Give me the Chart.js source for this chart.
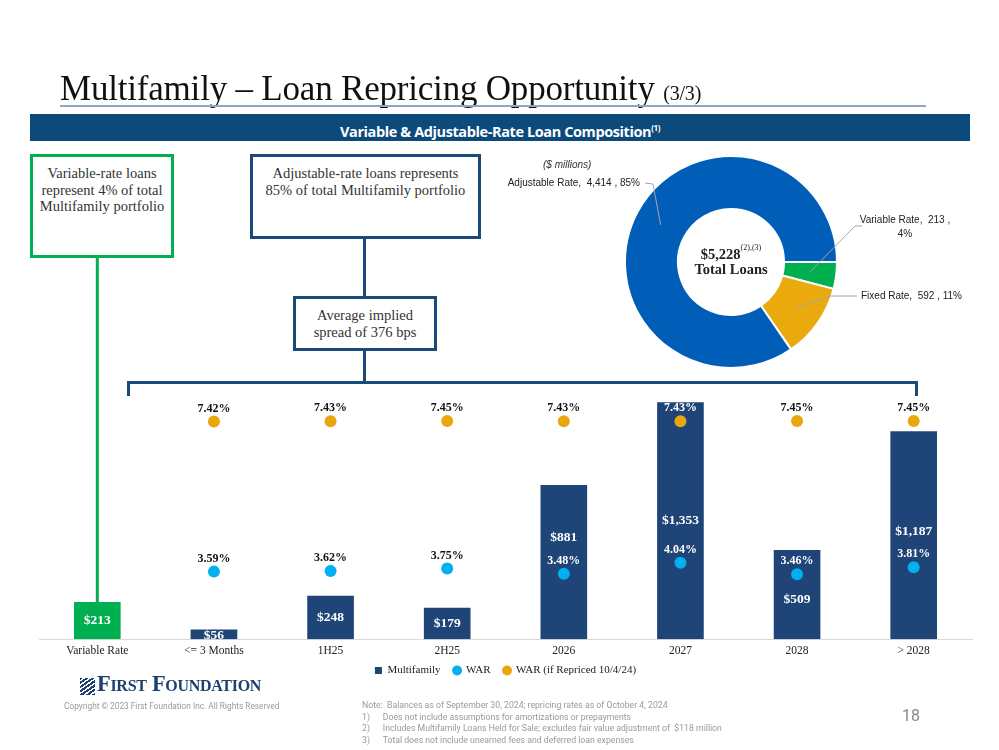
<!DOCTYPE html>
<html>
<head>
<meta charset="utf-8">
<script src="https://cdn.jsdelivr.net/npm/chart.js@4.4.1/dist/chart.umd.min.js"></script>
<style>
  body { margin: 0; background: #fff; }
  #page { position: relative; width: 999px; height: 750px; overflow: hidden; font-family: "Liberation Serif", serif; }
  #page > * { position: absolute; }
  .box { box-sizing: border-box; background: #fff; text-align: center; color: #333; font-size: 14.5px; line-height: 16.5px; }
  .navy { background: #1b4a7a; }
  .note { font-family: "Liberation Sans Narrow", "Roboto", sans-serif; color: #9a9a9a; font-size: 8.7px; }
</style>
</head>
<body>
<div id="page">
  <canvas id="bars" width="999" height="750" style="left:0;top:0"></canvas>

  <div style="left:60px;top:69px;font-size:35px;color:#111;white-space:nowrap;letter-spacing:-0.2px">Multifamily – Loan Repricing Opportunity <span style="font-size:20px">(3/3)</span></div>
  <div style="left:60px;top:105px;width:866px;height:2px;background:#8ea6c1"></div>
  <div style="left:30px;top:114px;width:940px;height:27px;background:#0d4a7c;color:#fff;font-family:'Open Sans',sans-serif;font-weight:bold;font-size:14.5px;line-height:27px;text-align:center;letter-spacing:-0.4px">Variable &amp; Adjustable-Rate Loan Composition<sup style="font-size:8px">(1)</sup></div>

  <div class="box" style="left:30px;top:154px;width:144px;height:104px;border:3px solid #00b050;padding-top:8px">Variable-rate loans<br>represent 4% of total<br>Multifamily portfolio</div>
  <div class="box" style="left:250px;top:154px;width:231px;height:85px;border:3px solid #1b4a7a;padding-top:8px">Adjustable-rate loans represents<br>85% of total Multifamily portfolio</div>
  <div class="navy" style="left:363px;top:239px;width:3px;height:57px"></div>
  <div class="box" style="left:293px;top:296px;width:144px;height:55px;border:3px solid #1b4a7a;padding-top:8px">Average implied<br>spread of 376 bps</div>
  <div class="navy" style="left:363px;top:351px;width:3px;height:31px"></div>
  <div class="navy" style="left:127px;top:381px;width:791px;height:3px"></div>
  <div class="navy" style="left:127px;top:381px;width:3px;height:15px"></div>
  <div class="navy" style="left:915px;top:381px;width:3px;height:15px"></div>

  <canvas id="donut" width="480" height="244" style="left:500px;top:140px"></canvas>
  <div style="left:543px;top:159px;font-family:'Liberation Sans',sans-serif;font-style:italic;font-size:10px;color:#333">($ millions)</div>
  <div style="left:671px;top:243px;width:120px;text-align:center;font-weight:bold;font-size:14.5px;line-height:15px;color:#222">$5,228<sup style="font-weight:normal;font-size:8px;position:relative;top:-3px">(2),(3)</sup><br>Total Loans</div>

  <div style="left:80px;top:678px;width:15px;height:17px;background:repeating-linear-gradient(-35deg,#1c3f73 0 2px,#fff 2px 3.5px)"></div>
  <div style="left:97px;top:671px;font-size:22.5px;font-weight:bold;font-variant:small-caps;color:#1c3f73;letter-spacing:-0.3px;white-space:nowrap">First Foundation</div>
  <div class="note" style="left:64px;top:701px;font-size:8.3px">Copyright © 2023 First Foundation Inc. All Rights Reserved</div>
  <div class="note" style="left:362px;top:700px;line-height:11.7px">
    Note:&nbsp; Balances as of September 30, 2024; repricing rates as of October 4, 2024<br>
    1)&nbsp;&nbsp;&nbsp;&nbsp;&nbsp; Does not include assumptions for amortizations or prepayments<br>
    2)&nbsp;&nbsp;&nbsp;&nbsp;&nbsp; Includes Multifamily Loans Held for Sale; excludes fair value adjustment of&nbsp; $118 million<br>
    3)&nbsp;&nbsp;&nbsp;&nbsp;&nbsp; Total does not include unearned fees and deferred loan expenses
  </div>
  <div style="left:902px;top:706px;font-family:'Liberation Sans Narrow','Roboto',sans-serif;font-size:16px;color:#888">18</div>
</div>

<script>
// repricing buckets
const buckets = ['Variable Rate', '<= 3 Months', '1H25', '2H25', '2026', '2027', '2028', '> 2028'];
const multifamily = [213, 56, 248, 179, 881, 1353, 509, 1187];
const warRate = [null, 3.59, 3.62, 3.75, 3.48, 4.04, 3.46, 3.81];
const repricedRate = [null, 7.42, 7.43, 7.45, 7.43, 7.43, 7.45, 7.45];

// loan mix donut
const mixLabels = ['Variable Rate', 'Fixed Rate', 'Adjustable Rate'];
const mixValues = [213, 592, 4414];

const serif = '"Liberation Serif", serif';
const navy = '#1f4477';
const green = '#00b050';

const barLabels = {
  id: 'barLabels',
  beforeDatasetsDraw(chart) {
    // green connector from the variable-rate callout down to its bar
    const b = chart.getDatasetMeta(0).data[0];
    const ctx = chart.ctx;
    ctx.save();
    ctx.strokeStyle = green;
    ctx.lineWidth = 3;
    ctx.beginPath();
    ctx.moveTo(b.x, 257);
    ctx.lineTo(b.x, b.y);
    ctx.stroke();
    ctx.restore();
  },
  afterDatasetsDraw(chart) {
    const ctx = chart.ctx;
    const bars = chart.getDatasetMeta(0).data;
    const war = chart.getDatasetMeta(1).data;
    const rep = chart.getDatasetMeta(2).data;
    const a = chart.chartArea;
    ctx.save();
    ctx.textAlign = 'center';
    ctx.textBaseline = 'middle';
    ctx.font = 'bold 12px ' + serif;
    [[war, warRate], [rep, repricedRate]].forEach(([pts, vals]) => {
      pts.forEach((p, i) => {
        if (vals[i] == null) return;
        const y = p.y - 13;
        ctx.fillStyle = y > bars[i].y + 4 ? '#fff' : '#111';
        ctx.fillText(vals[i].toFixed(2) + '%', p.x, y);
      });
    });
    ctx.beginPath();
    ctx.rect(a.left, a.top - 20, a.right - a.left, a.bottom - a.top + 20);
    ctx.clip();
    ctx.fillStyle = '#fff';
    ctx.font = 'bold 13.5px ' + serif;
    bars.forEach((b, i) => {
      let y = (b.y + b.base) / 2;
      const p = war[i];
      if (b.base - b.y < 16) {
        y = b.base - 4;
      } else if (warRate[i] != null && Math.abs(y - p.y) < 40) {
        y = b.y < p.y - 60 ? p.y - 36 : p.y + 25;
      }
      ctx.fillText('$' + multifamily[i].toLocaleString('en-US'), b.x, y);
    });
    ctx.restore();
  }
};

new Chart(document.getElementById('bars'), {
  data: {
    labels: buckets,
    datasets: [
      {
        type: 'bar', label: 'Multifamily', data: multifamily, order: 3,
        backgroundColor: buckets.map((c, i) => i === 0 ? green : navy),
        barPercentage: 0.4, categoryPercentage: 1, pointStyle: 'rect'
      },
      {
        type: 'line', label: 'WAR', data: warRate, yAxisID: 'y2', order: 2,
        showLine: false, pointRadius: 6, pointBackgroundColor: '#00b0f0', pointBorderWidth: 0,
        backgroundColor: '#00b0f0', borderColor: '#00b0f0', pointStyle: 'circle'
      },
      {
        type: 'line', label: 'WAR (if Repriced 10/4/24)', data: repricedRate, yAxisID: 'y3', order: 1,
        showLine: false, pointRadius: 6, pointBackgroundColor: '#eaa60d', pointBorderWidth: 0,
        backgroundColor: '#eaa60d', borderColor: '#eaa60d', pointStyle: 'circle'
      }
    ]
  },
  options: {
    responsive: false,
    animation: false,
    layout: { padding: { top: 394, left: 39, right: 27, bottom: 64 } },
    scales: {
      x: {
        grid: { display: false, drawTicks: false },
        border: { display: true, color: '#d9d9d9', width: 1 },
        ticks: { color: '#222', font: { family: serif, size: 11.5 }, padding: 5, maxRotation: 0 }
      },
      y: { display: false, min: 0, max: 1400 },
      y2: { display: false, min: 0.2, max: 12.5 },
      y3: { display: false, min: -3.5, max: 8.8 }
    },
    plugins: {
      tooltip: { enabled: false },
      legend: {
        position: 'bottom',
        labels: {
          usePointStyle: true, boxWidth: 7, boxHeight: 7, padding: 2,
          color: '#222', font: { family: serif, size: 11 },
          sort: (a, b) => a.datasetIndex - b.datasetIndex,
          generateLabels(chart) {
            const items = Chart.defaults.plugins.legend.labels.generateLabels(chart);
            items.forEach(it => {
              if (it.datasetIndex === 0) {
                it.fillStyle = navy;
                it.strokeStyle = navy;
              }
              // a little air between entries, as in the slide
              if (it.datasetIndex < 2) it.text += '\u2002\u2002';
            });
            return items;
          }
        }
      }
    }
  },
  plugins: [barLabels]
});

// leader lines: text anchor and elbow, in donut canvas pixels
const donutCallouts = [
  { lines: (l, v, p) => [l + ',  ' + v + ' ,', p], x: 405, y: 80, align: 'center', elbow: [[362, 86], [355, 86]] },
  { lines: (l, v, p) => [l + ',  ' + v + ' , ' + p], x: 361, y: 156, align: 'left', elbow: [[357, 156], [330, 156]] },
  { lines: (l, v, p) => [l + ',  ' + v + ' , ' + p], x: 140, y: 43, align: 'right', elbow: [[145, 43], [153, 44]] }
];

const donutLabels = {
  id: 'donutLabels',
  afterDatasetsDraw(chart) {
    const ctx = chart.ctx;
    const arcs = chart.getDatasetMeta(0).data;
    const total = mixValues.reduce((s, v) => s + v, 0);
    ctx.save();
    ctx.font = '10px "Liberation Sans", sans-serif';
    ctx.textBaseline = 'middle';
    arcs.forEach((arc, i) => {
      const c = donutCallouts[i];
      const mid = (arc.startAngle + arc.endAngle) / 2;
      const r = (arc.innerRadius + arc.outerRadius) / 2;
      ctx.strokeStyle = '#a6a6a6';
      ctx.lineWidth = 1;
      ctx.beginPath();
      ctx.moveTo(c.elbow[0][0], c.elbow[0][1]);
      ctx.lineTo(c.elbow[1][0], c.elbow[1][1]);
      ctx.lineTo(arc.x + Math.cos(mid) * r, arc.y + Math.sin(mid) * r);
      ctx.stroke();
      const pct = Math.round(mixValues[i] / total * 100) + '%';
      const lines = c.lines(mixLabels[i], mixValues[i].toLocaleString('en-US'), pct);
      ctx.fillStyle = '#222';
      ctx.textAlign = c.align;
      lines.forEach((t, k) => ctx.fillText(t, c.x, c.y + k * 14));
    });
    ctx.restore();
  }
};

new Chart(document.getElementById('donut'), {
  type: 'doughnut',
  data: {
    labels: mixLabels,
    datasets: [{
      data: mixValues,
      backgroundColor: [green, '#eaa90c', '#005eb8'],
      borderColor: '#fff', borderWidth: 2, hoverOffset: 0
    }]
  },
  options: {
    responsive: false,
    animation: false,
    rotation: 90,
    cutout: '50%',
    layout: { padding: { left: 100, right: 118, top: 15, bottom: 15 } },
    plugins: { legend: { display: false }, tooltip: { enabled: false } }
  },
  plugins: [donutLabels]
});
</script>
</body>
</html>
